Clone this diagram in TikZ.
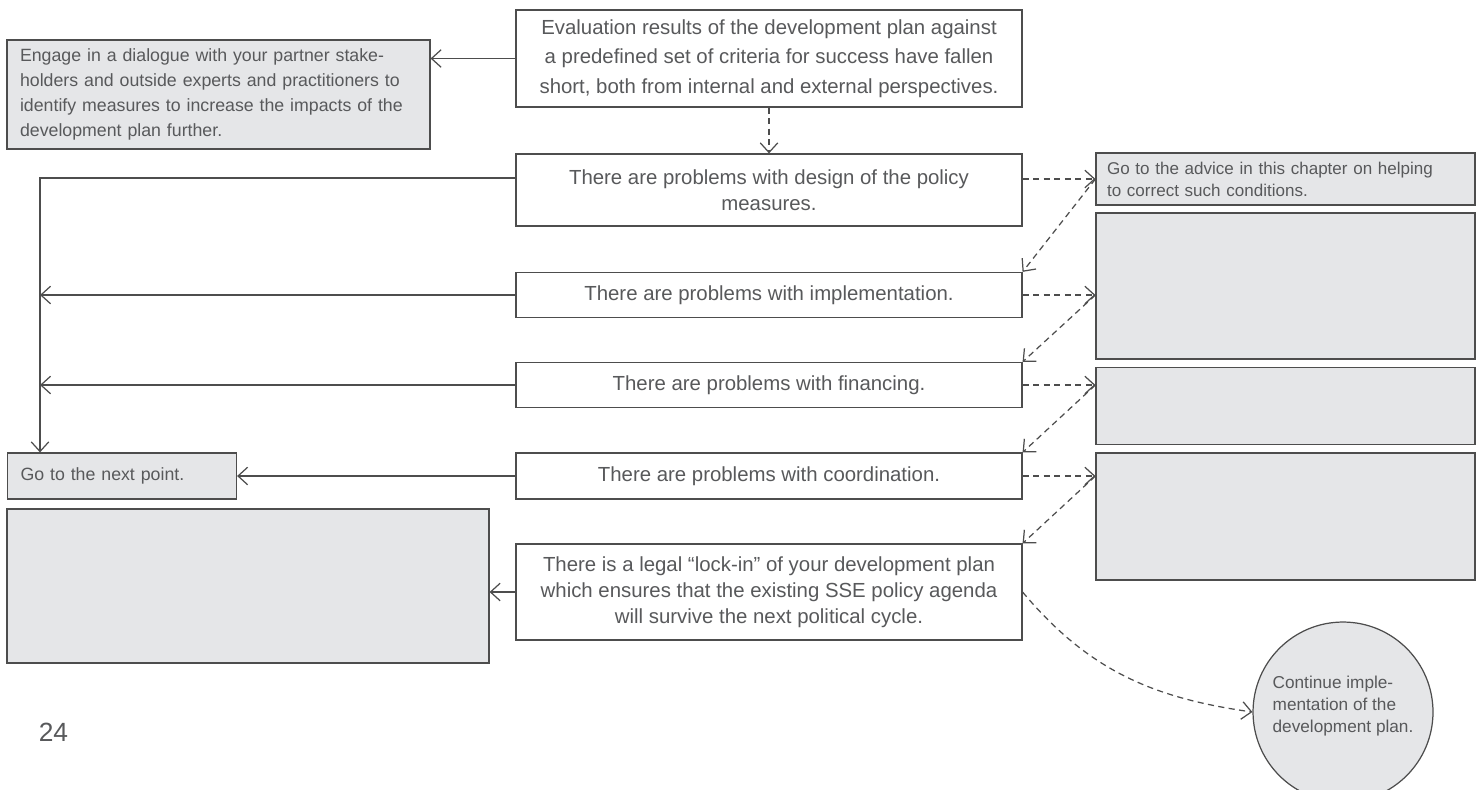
\documentclass[tikz,border=0pt]{standalone}
\usepackage{fontspec}
\setmainfont{Liberation Sans}
\usetikzlibrary{arrows.meta}

\definecolor{boxline}{HTML}{4D4D4D}
\definecolor{boxfill}{HTML}{E5E6E8}
\definecolor{txtgray}{HTML}{58595B}

\begin{document}
\begin{tikzpicture}[x=0.02cm, y=-0.02cm,
	>={Straight Barb[length=5.5pt,width=10pt]},
	mainbox/.style={draw=boxline, line width=0.7pt, fill=white, inner sep=0pt,
		minimum width=10.12cm, align=center, text=txtgray,
		font=\fontsize{11.6}{14.7}\selectfont},
	graybox/.style={draw=boxline, line width=0.7pt, fill=boxfill, inner sep=0pt,
		text=txtgray},
	leftnote/.style={graybox, inner xsep=0.26cm, align=left,
		font=\fontsize{10.1}{14.2}\selectfont},
	rightnote/.style={graybox, inner xsep=0.22cm, align=left,
		font=\fontsize{9.7}{12.5}\selectfont},
	solidline/.style={draw=boxline, line width=0.7pt},
	dashline/.style={draw=boxline, line width=0.7pt, dash pattern=on 3.5pt off 2.5pt}]

	\useasboundingbox (0,0) rectangle (1479,789);

	% centre column
	\node[mainbox, minimum height=1.94cm, font=\fontsize{11.6}{16.8}\selectfont] (eval) at (769,58.5)
		{Evaluation results of the development plan against\\
		a predefined set of criteria for success have fallen\\
		short, both from internal and external perspectives.};
	\node[mainbox, minimum height=1.44cm] (design) at (769,190)
		{There are problems with design of the policy\\measures.};
	\node[mainbox, minimum height=0.9cm] (impl) at (769,295)
		{There are problems with implementation.};
	\node[mainbox, minimum height=0.9cm] (fin) at (769,385)
		{There are problems with financing.};
	\node[mainbox, minimum height=0.92cm] (coord) at (769,476)
		{There are problems with coordination.};
	\node[mainbox, minimum height=1.92cm] (lock) at (769,592)
		{There is a legal “lock-in” of your development plan\\
		which ensures that the existing SSE policy agenda\\
		will survive the next political cycle.};

	% left column
	\node[leftnote, text width=7.94cm, minimum height=2.18cm] (engage) at (218.5,94.5)
		{Engage in a dialogue with your partner stake-\\
		holders and outside experts and practitioners to\\
		identify measures to increase the impacts of the\\
		development plan further.};
	\node[leftnote, text width=4.06cm, minimum height=0.92cm] (nextpt) at (122,476)
		{Go to the next point.};
	\node[graybox, minimum width=9.64cm, minimum height=3.08cm] (blankL) at (248,586) {};

	% right column
	\node[rightnote, text width=7.14cm, minimum height=1.04cm] (advice) at (1285.5,179)
		{Go to the advice in this chapter on helping\\to correct such conditions.};
	\node[graybox, minimum width=7.58cm, minimum height=2.92cm] (blankRa) at (1285.5,286) {};
	\node[graybox, minimum width=7.58cm, minimum height=1.54cm] (blankRb) at (1285.5,406) {};
	\node[graybox, minimum width=7.58cm, minimum height=2.54cm] (blankRc) at (1285.5,516.5) {};

	\node[graybox, circle, minimum size=3.6cm, align=left, text depth=9pt,
		font=\fontsize{9.8}{12.5}\selectfont] (circ) at (1343,712)
		{Continue imple-\\mentation of the\\development plan.};

	\node[text=txtgray, font=\fontsize{15}{18}\selectfont, inner sep=0pt] (pagenum) at (53.5,732.5) {24};

	\coordinate (bend) at (40,178);

	% solid connectors to the left
	\draw[solidline, ->] (eval.west) -- (eval.west -| engage.east);
	\draw[solidline, ->] (design.west |- bend) -- (bend) -- (bend |- nextpt.north);
	\draw[solidline, ->] (impl.west) -- (impl.west -| bend);
	\draw[solidline, ->] (fin.west) -- (fin.west -| bend);
	\draw[solidline, ->] (coord.west) -- (nextpt.east);
	\draw[solidline, ->] (lock.west) -- (lock.west -| blankL.east);

	% dashed connectors to the right
	\draw[dashline, ->] (eval.south) -- (design.north);
	\draw[dashline, ->] (design.east |- advice.west) -- (advice.west);
	\draw[dashline, ->] (advice.west) -- (impl.north east);
	\draw[dashline, ->] (impl.east) -- (impl.east -| blankRa.west);
	\draw[dashline, ->] (impl.east -| blankRa.west) -- (fin.north east);
	\draw[dashline, ->] (fin.east) -- (fin.east -| blankRb.west);
	\draw[dashline, ->] (fin.east -| blankRb.west) -- (coord.north east);
	\draw[dashline, ->] (coord.east) -- (coord.east -| blankRc.west);
	\draw[dashline, ->] (coord.east -| blankRc.west) -- (lock.north east);
	\draw[dashline, ->] (lock.east) to[out=-50, in=172] (circ.west);

\end{tikzpicture}
\end{document}
